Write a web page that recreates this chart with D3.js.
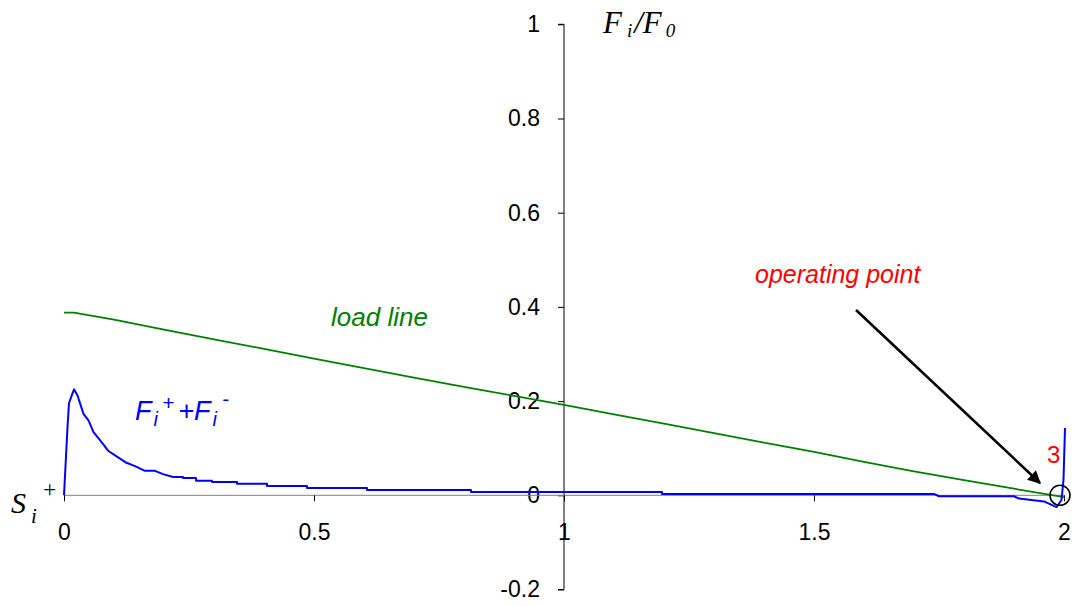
<!DOCTYPE html>
<html>
<head>
<meta charset="utf-8">
<script src="https://cdn.jsdelivr.net/npm/d3@7"></script>
<style>
    body { margin: 0; background: #fff; }
    svg { display: block; font-family: Arial, "Liberation Sans", sans-serif; }
    .serif { font-family: "Times New Roman", "Liberation Serif", serif; font-style: italic; }
</style>
</head>
<body>
<svg id="chart" width="1087" height="606"></svg>
<script>
// Data
const xTicks = [0, 0.5, 1, 1.5, 2];
const yTicks = [-0.2, 0, 0.2, 0.4, 0.6, 0.8, 1];

// load line (green)
const loadX = [0, 0.02, 0.1, 0.2, 0.3, 0.4, 0.5, 0.6, 0.7, 0.8, 0.9, 1.0, 1.1, 1.2, 1.3, 1.4, 1.5, 1.6, 1.7, 1.8, 1.9, 2.0];
const loadY = [0.388, 0.388, 0.373, 0.352, 0.331, 0.311, 0.290, 0.270, 0.250, 0.230, 0.211, 0.192, 0.172, 0.152, 0.132, 0.112, 0.092, 0.071, 0.051, 0.032, 0.014, -0.004];

// F_i^+ + F_i^- (blue): peak, stepped tail, and end
const headX = [0, 0.007, 0.01, 0.02, 0.027, 0.039, 0.049, 0.059, 0.072, 0.089, 0.109, 0.125, 0.142, 0.162, 0.182, 0.198, 0.218];
const headY = [0, 0.145, 0.196, 0.225, 0.212, 0.173, 0.159, 0.134, 0.117, 0.094, 0.080, 0.069, 0.062, 0.052, 0.052, 0.045, 0.039];
const tailX = [0.218, 0.238, 0.264, 0.296, 0.346, 0.406, 0.486, 0.606, 0.814, 1.196, 1.74];
const tailY = [0.039, 0.0365, 0.031, 0.028, 0.0244, 0.0195, 0.0153, 0.011, 0.0068, 0.003, 0.003];
const endX = [1.74, 1.75, 1.9, 1.91, 1.96, 1.985, 1.995, 1.999, 2.002];
const endY = [0.003, -0.002, -0.002, -0.007, -0.013, -0.025, -0.01, 0.033, 0.143];

// operating point
const opX = 1.992, opY = 0;

const svg = d3.select("#chart");

const x = d3.scaleLinear().domain([0, 2]).range([64, 1064]);
const y = d3.scaleLinear().domain([-0.2, 1]).range([589.5, 24.3]);

// y axis (ticks to the left)
const yAxis = d3.axisLeft(y).tickValues(yTicks).tickSize(6).tickPadding(18)
    .tickFormat(d => d === 0 ? "0" : String(d));
const gy = svg.append("g").attr("transform", `translate(${x(1)},0)`).call(yAxis);
gy.select(".domain").attr("stroke", "#000").attr("d", `M-6,${y(1)}H0V${y(-0.2)}H-6`);
gy.selectAll(".tick line").attr("stroke", "#000");
gy.selectAll(".tick text").attr("font-size", 23).attr("fill", "#000")
    .attr("font-family", "Arial, 'Liberation Sans', sans-serif");

// x axis (ticks down)
const xAxis = d3.axisBottom(x).tickValues(xTicks).tickSize(6).tickPadding(22)
    .tickFormat(d => String(d));
const gx = svg.append("g").attr("transform", `translate(0,${y(0)})`).call(xAxis);
gx.select(".domain").attr("stroke", "#808080").attr("d", `M${x(0)},0H${x(2)}`);
gx.selectAll(".tick line").attr("stroke", "#000");
gx.selectAll(".tick text").attr("font-size", 23).attr("fill", "#000")
    .attr("font-family", "Arial, 'Liberation Sans', sans-serif");

const toPts = (xs, ys) => xs.map((v, i) => [v, ys[i]]);
const lineLin = d3.line().x(d => x(d[0])).y(d => y(d[1]));
const lineStep = d3.line().x(d => x(d[0])).y(d => y(d[1])).curve(d3.curveStepAfter);

// load line
svg.append("path").datum(toPts(loadX, loadY))
    .attr("d", lineLin).attr("fill", "none")
    .attr("stroke", "#008000").attr("stroke-width", 1.8);

// blue curve
const blue = svg.append("g").attr("fill", "none").attr("stroke", "#0000ff")
    .attr("stroke-width", 2).attr("stroke-linejoin", "round");
blue.append("path").datum(toPts(headX, headY)).attr("d", lineLin);
blue.append("path").datum(toPts(tailX, tailY)).attr("d", lineStep);
blue.append("path").datum(toPts(endX, endY)).attr("d", lineLin);

// operating point marker
svg.append("circle").attr("cx", x(opX)).attr("cy", y(opY)).attr("r", 10)
    .attr("fill", "none").attr("stroke", "#000").attr("stroke-width", 1.6);

// arrow
svg.append("defs").append("marker")
    .attr("id", "arrow").attr("viewBox", "0 0 10 10")
    .attr("refX", 9).attr("refY", 5)
    .attr("markerWidth", 6).attr("markerHeight", 5)
    .attr("markerUnits", "strokeWidth")
    .attr("orient", "auto")
    .append("path").attr("d", "M0,0L10,5L0,10Z").attr("fill", "#000");
svg.append("line")
    .attr("x1", 856).attr("y1", 310).attr("x2", 1040).attr("y2", 483)
    .attr("stroke", "#000").attr("stroke-width", 2.6)
    .attr("marker-end", "url(#arrow)");

// labels
const fi = svg.append("text").attr("class", "serif").attr("x", 603).attr("y", 33)
    .attr("font-size", 31).attr("fill", "#000");
fi.append("tspan").text("F");
fi.append("tspan").attr("font-size", 19).attr("dx", 5).attr("dy", 4).text("i");
fi.append("tspan").attr("dx", 2).attr("dy", -4).text("/F");
fi.append("tspan").attr("font-size", 19).attr("dx", 4).attr("dy", 4).text("0");

const si = svg.append("text").attr("class", "serif").attr("x", 11).attr("y", 513)
    .attr("font-size", 30).attr("fill", "#000");
si.append("tspan").text("S");
si.append("tspan").attr("font-size", 21).attr("dx", 5).attr("dy", 10).text("i");
si.append("tspan").attr("font-size", 23).attr("dx", 5).attr("dy", -26).text("+");

const ff = svg.append("text").attr("x", 135).attr("y", 420)
    .attr("font-size", 27).attr("font-style", "italic").attr("fill", "#0000ff");
ff.append("tspan").text("F");
ff.append("tspan").attr("font-size", 20).attr("dx", 2).attr("dy", 6).text("i");
ff.append("tspan").attr("font-size", 21).attr("dx", 4).attr("dy", -16).text("+");
ff.append("tspan").attr("dx", 4).attr("dy", 10).text("+F");
ff.append("tspan").attr("font-size", 20).attr("dx", 2).attr("dy", 6).text("i");
ff.append("tspan").attr("font-size", 21).attr("dx", 5).attr("dy", -20).text("-");

svg.append("text").attr("x", 331).attr("y", 326)
    .attr("font-size", 26).attr("font-style", "italic").attr("fill", "#008000")
    .text("load line");

svg.append("text").attr("x", 755).attr("y", 283)
    .attr("font-size", 25).attr("font-style", "italic").attr("fill", "#ff0000")
    .text("operating point");

svg.append("text").attr("x", 1047).attr("y", 463)
    .attr("font-size", 24).attr("fill", "#ff0000")
    .text("3");
</script>
</body>
</html>
